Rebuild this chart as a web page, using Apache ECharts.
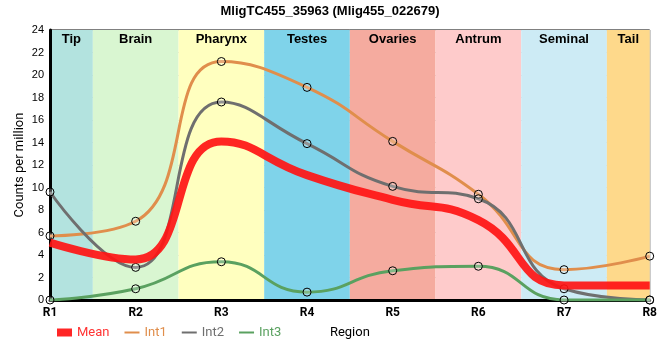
<!DOCTYPE html>
<html><head><meta charset="utf-8">
<script src="https://cdn.jsdelivr.net/npm/echarts@6/dist/echarts.min.js"></script>
<style>html,body{margin:0;padding:0;background:#fff}#c{width:660px;height:360px}</style>
</head><body><div id="c"></div>
<script>
const regions = ['R1','R2','R3','R4','R5','R6','R7','R8'];
const int1 = [5.7, 7.0, 21.2, 18.9, 14.1, 9.4, 2.7, 3.9];
const int2 = [9.6, 2.9, 17.6, 13.9, 10.1, 9.0, 1.0, 0.0];
const int3 = [0.0, 1.0, 3.4, 0.7, 2.6, 3.0, 0.0, 0.0];
const meanV = [5.1, 3.6, 14.1, 11.1, 8.9, 7.1, 1.3, 1.3];
const bandNames = ['Tip','Brain','Pharynx','Testes','Ovaries','Antrum','Seminal','Tail'];
const bandStart = [1, 1.5, 2.5, 3.5, 4.5, 5.5, 6.5, 7.5];
const bandEnd = [1.5, 2.5, 3.5, 4.5, 5.5, 6.5, 7.5, 8];
const bandColors = ['#b3e3df','#d9f6d1','#ffffbf','#7fd3ea','#f5ab9f','#fecbcb','#cdebf5','#fed98b'];
const yTicks = [0,2,4,6,8,10,12,14,16,18,20,22,24];

const pts = arr => arr.map((v,i)=>[i+1, v]);
const cols = {Mean:'rgba(255,20,20,0.92)', Int1:'#e08e4c', Int2:'#6f6f6f', Int3:'#5aa160'};
const marker = {color:'rgba(255,255,255,0.25)', borderColor:'#000', borderWidth:1};

const chart = echarts.init(document.getElementById('c'));
chart.setOption({
  animation:false,
  title:{text:'MligTC455_35963 (Mlig455_022679)', left:'center', top:0,
    textStyle:{fontFamily:'Liberation Sans', fontSize:13, fontWeight:'bold', color:'#000'}},
  grid:{left:50, right:9, top:30, bottom:60, show:true, borderColor:'#000', borderWidth:1},
  legend:{left:52, top:321, itemWidth:15, itemHeight:8, itemGap:14,
    textStyle:{fontFamily:'Roboto', fontSize:13},
    data:[
      {name:'Mean', icon:'rect', textStyle:{color:'#ff3333'}},
      {name:'Int1', itemStyle:{opacity:0}, textStyle:{color:cols.Int1}},
      {name:'Int2', itemStyle:{opacity:0}, textStyle:{color:cols.Int2}},
      {name:'Int3', itemStyle:{opacity:0}, textStyle:{color:cols.Int3}}
    ]},
  xAxis:{type:'value', min:1, max:8, interval:1, name:'Region', nameLocation:'middle', nameGap:26,
    nameTextStyle:{fontFamily:'Roboto', fontSize:13, color:'#000'},
    axisLine:{lineStyle:{color:'#000', width:3}},
    axisTick:{show:false},
    axisLabel:{formatter:v=>regions[v-1], color:'#000', fontFamily:'Roboto', fontWeight:'bold', fontSize:12, margin:7},
    splitLine:{show:true, lineStyle:{color:'#c8c8c8', width:1}}},
  yAxis:{type:'value', min:0, max:24, interval:2, name:'Counts per million', nameLocation:'middle', nameGap:24,
    nameMoveOverlap:false,
    nameTextStyle:{fontFamily:'Roboto', fontSize:13, color:'#000'},
    axisLine:{show:true, lineStyle:{color:'#000', width:3}},
    axisTick:{show:false},
    axisLabel:{formatter:v=>yTicks.includes(v)?String(v):'', color:'#000', fontFamily:'Liberation Sans', fontSize:11, margin:6},
    splitLine:{show:true, lineStyle:{color:'#c8c8c8', width:1}}},
  series:[
    {name:'Mean', type:'line', smooth:0.5, data:pts(meanV), showSymbol:false, symbol:'none', z:5,
      lineStyle:{color:cols.Mean, width:8}, itemStyle:{color:cols.Mean},
      markArea:{silent:true, z:0,
        label:{position:'insideTop', color:'#000', fontFamily:'Liberation Sans', fontWeight:'bold', fontSize:13, distance:3},
        data:bandNames.map((n,i)=>[{name:n, xAxis:bandStart[i], itemStyle:{color:bandColors[i], opacity:1}},{xAxis:bandEnd[i]}])}},
    {name:'Int1', type:'line', smooth:0.5, data:pts(int1), symbol:'circle', symbolSize:8, z:4,
      lineStyle:{color:cols.Int1, width:3}, itemStyle:marker},
    {name:'Int2', type:'line', smooth:0.5, data:pts(int2), symbol:'circle', symbolSize:8, z:4,
      lineStyle:{color:cols.Int2, width:3}, itemStyle:marker},
    {name:'Int3', type:'line', smooth:0.5, data:pts(int3), symbol:'circle', symbolSize:8, z:4,
      lineStyle:{color:cols.Int3, width:3}, itemStyle:marker}
  ]
});
</script></body></html>
